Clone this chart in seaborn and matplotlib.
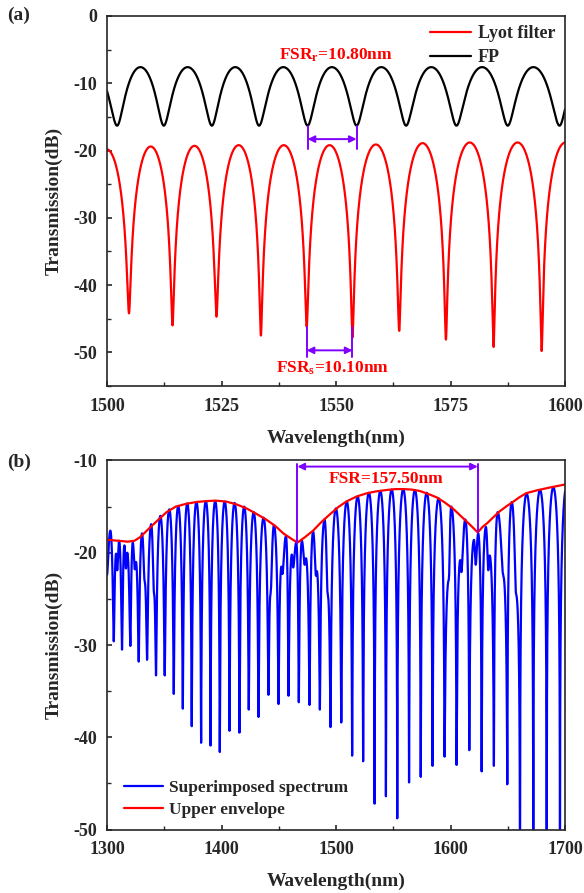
import numpy as np
import pandas as pd
import matplotlib
matplotlib.use("Agg")
import matplotlib.pyplot as plt
import seaborn as sns
from matplotlib.ticker import MultipleLocator

# ---------------- (a) individual filters ----------------
# Lyot filter: dip / peak wavelengths (nm) and levels (dB)
lyot_dip_nm = [1504.8, 1514.3, 1523.9, 1533.6, 1543.6, 1553.6, 1563.8, 1574.0, 1584.4, 1594.9]
lyot_dip_db = [-44.2, -46.0, -44.7, -47.5, -46.2, -47.8, -46.8, -48.1, -49.2, -49.8]
lyot_peak_nm = [1499.9, 1509.55, 1519.1, 1528.75, 1538.6, 1548.6, 1558.7, 1568.9, 1579.2, 1589.65, 1600.1]
lyot_peak_db = [-19.8, -19.4, -19.3, -19.2, -19.2, -19.2, -19.1, -18.9, -18.8, -18.8, -18.8]

# Fabry-Perot comb
fp_dip_nm = [1502.2, 1512.4, 1522.9, 1533.2, 1543.8, 1554.5, 1565.3, 1576.3, 1587.5, 1598.8]
fp_dip_db = [-16.3, -16.3, -16.3, -16.3, -16.3, -16.3, -16.3, -16.3, -16.3, -16.3]
fp_peak_nm = [1496.8, 1507.3, 1517.6, 1528.0, 1538.5, 1549.1, 1559.9, 1570.8, 1581.9, 1593.1, 1604.2]
fp_peak_db = [-7.6, -7.6, -7.6, -7.6, -7.6, -7.6, -7.6, -7.6, -7.6, -7.6, -7.6]

# ---------------- (b) superimposed spectrum ----------------
# deep fringe minima
sup_dip_nm = [1305.9, 1313.1, 1320.4, 1327.7, 1335.0, 1342.8, 1350.4, 1358.3, 1366.2, 1374.0,
              1382.2, 1390.4, 1398.5, 1407.0, 1415.7, 1423.8, 1432.3, 1441.0, 1449.8, 1458.5,
              1467.5, 1476.9, 1485.9, 1495.2, 1504.6, 1514.1, 1523.7, 1533.7, 1543.6, 1553.5,
              1563.8, 1574.0, 1584.3, 1594.8, 1605.3, 1616.4, 1627.2, 1637.9, 1649.6, 1660.7,
              1672.3, 1684.0, 1695.6]
sup_dip_db = [-29.6, -30.5, -30.1, -31.8, -31.6, -33.3, -33.3, -35.3, -36.9, -38.8,
              -40.6, -40.9, -41.6, -39.3, -39.5, -37.0, -37.8, -35.4, -36.4, -35.5,
              -36.2, -36.5, -37.0, -38.9, -38.4, -42.0, -42.6, -47.2, -46.4, -48.8,
              -44.9, -44.3, -43.1, -42.1, -43.0, -41.4, -43.7, -43.1, -45.1, -58.0,
              -58.0, -58.0, -58.0]
# main fringe maxima
sup_peak_nm = [1302.9, 1310.6, 1315.2, 1322.5, 1330.6, 1338.6, 1346.6, 1354.4, 1362.2, 1370.1,
               1378.1, 1386.3, 1394.5, 1402.8, 1411.4, 1419.8, 1428.1, 1436.7, 1445.8, 1456.3,
               1465.3, 1470.2, 1480.0, 1490.0, 1499.9, 1509.4, 1518.9, 1528.7, 1538.7, 1548.6,
               1558.7, 1568.9, 1579.2, 1589.6, 1600.6, 1612.9, 1624.2, 1630.9, 1641.2, 1653.5,
               1666.5, 1678.2, 1689.8, 1701.6]
sup_peak_db = [-17.6, -18.7, -19.2, -18.9, -17.9, -16.9, -16.0, -15.3, -14.95, -14.65,
               -14.5, -14.4, -14.4, -14.45, -14.6, -15.0, -15.6, -16.2, -17.0, -18.2,
               -18.9, -18.7, -17.7, -16.4, -15.2, -14.45, -13.9, -13.5, -13.3, -13.15,
               -13.1, -13.2, -13.5, -14.1, -15.0, -16.4, -17.9, -17.2, -15.6, -14.5,
               -13.6, -13.2, -12.9, -12.6]
# secondary bumps, notches and shoulders near the envelope minima
sup_fine_nm = [1307.9, 1308.9, 1316.5, 1317.7, 1324.3, 1325.3, 1332.8, 1333.1, 1340.9, 1341.2,
               1442.7, 1443.0, 1452.3, 1453.2, 1461.4, 1462.6, 1472.6, 1473.8, 1482.5, 1483.3,
               1492.6, 1492.9, 1598.4, 1598.7, 1608.5, 1609.5, 1620.5, 1622.0, 1633.0, 1634.2,
               1645.9, 1646.2, 1657.1, 1657.4]
sup_fine_db = [-20.1, -21.9, -21.7, -20.0, -21.8, -21.0, -23.0, -23.3, -24.2, -24.5,
               -24.6, -24.3, -21.5, -22.3, -20.2, -21.6, -21.3, -20.6, -22.5, -22.0,
               -24.3, -24.6, -23.0, -22.6, -20.8, -22.1, -18.6, -21.3, -21.9, -20.3,
               -22.3, -22.6, -24.3, -24.6]
sup_start = (1300.0, -22.4)

# Upper envelope
env_nm = [1300, 1310, 1318, 1324, 1329, 1334, 1339, 1345, 1352, 1360, 1369, 1378, 1387, 1395,
          1404, 1413, 1422, 1430, 1439, 1447, 1454, 1460, 1466.3,
          1473, 1480, 1487, 1495, 1502, 1509, 1518, 1527, 1535, 1544, 1552, 1559, 1566, 1573,
          1580, 1588, 1595, 1602, 1608, 1614, 1619, 1623.8,
          1628, 1632, 1637, 1643, 1649, 1655, 1660, 1666, 1675, 1684, 1692, 1700]
env_db = [-18.6, -18.7, -18.8, -18.7, -18.3, -17.7, -17.1, -16.4, -15.6, -15.0, -14.7, -14.5, -14.4, -14.35,
          -14.45, -14.75, -15.2, -15.75, -16.4, -17.1, -17.9, -18.4, -18.9,
          -18.3, -17.6, -16.7, -15.8, -15.05, -14.45, -13.9, -13.55, -13.35, -13.2, -13.1, -13.1, -13.15, -13.3,
          -13.6, -14.0, -14.55, -15.2, -15.9, -16.6, -17.2, -17.8,
          -17.2, -16.8, -16.2, -15.5, -14.95, -14.45, -14.0, -13.55, -13.25, -13.0, -12.8, -12.6]

# Annotated free spectral ranges
fsr_r_nm = (1543.8, 1554.5)
fsr_s_nm = (1543.6, 1553.6)
fsr_env_nm = (1466.3, 1623.8)


def fringe(knot_nm, knot_db, grid, q=1.0):
    """Trace a fringe pattern through its successive extrema.
    Each segment between extrema is a raised cosine in amplitude T**(1/q)."""
    order = np.argsort(knot_nm)
    x = np.asarray(knot_nm, float)[order]
    a = 10 ** (np.asarray(knot_db, float)[order] / (10 * q))
    i = np.clip(np.searchsorted(x, grid) - 1, 0, len(x) - 2)
    u = np.clip((grid - x[i]) / (x[i + 1] - x[i]), 0, 1)
    amp = a[i] + (a[i + 1] - a[i]) * (1 - np.cos(np.pi * u)) / 2
    return 10 * q * np.log10(amp)


sns.set_style("ticks")
plt.rcParams.update({
    "font.family": ["Liberation Serif", "DejaVu Serif"],
    "font.weight": "bold",
    "axes.labelweight": "bold",
    "axes.unicode_minus": False,
    "mathtext.fontset": "custom",
    "mathtext.rm": "Liberation Serif:bold",
    "mathtext.bf": "Liberation Serif:bold",
    "mathtext.it": "Liberation Serif:bold",
    "xtick.direction": "in",
    "ytick.direction": "in",
    "axes.linewidth": 1.2,
    "xtick.major.width": 1.2,
    "ytick.major.width": 1.2,
    "xtick.minor.width": 1.0,
    "ytick.minor.width": 1.0,
    "xtick.major.size": 3.3,
    "ytick.major.size": 3.3,
    "xtick.minor.size": 3.0,
    "ytick.minor.size": 3.0,
    "xtick.major.pad": 8.5,
    "ytick.major.pad": 7.0,
})

W, H = 584, 893
fig = plt.figure(figsize=(W / 100, H / 100), dpi=100)
axa = fig.add_axes([107 / W, 1 - 386 / H, 458 / W, 370 / H])
axb = fig.add_axes([107 / W, 1 - 829.5 / H, 458 / W, 369 / H])

purple = "#8000FF"
lw = 1.6

# ---- panel (a) ----
ga = np.linspace(1496.0, 1604.0, 20000)
lyot_df = pd.DataFrame({"nm": ga, "dB": fringe(lyot_dip_nm + lyot_peak_nm,
                                               lyot_dip_db + lyot_peak_db, ga, q=1.2)})
fp_df = pd.DataFrame({"nm": ga, "dB": fringe(fp_dip_nm + fp_peak_nm, fp_dip_db + fp_peak_db, ga)})
sns.lineplot(data=lyot_df, x="nm", y="dB", ax=axa, color="#FF0000", lw=lw,
             estimator=None, sort=False, label="Lyot filter")
sns.lineplot(data=fp_df, x="nm", y="dB", ax=axa, color="black", lw=lw,
             estimator=None, sort=False, label="FP")
axa.set_xlim(1500, 1600)
axa.set_ylim(-55, 0)
axa.xaxis.set_major_locator(MultipleLocator(25))
axa.xaxis.set_minor_locator(MultipleLocator(12.5))
axa.yaxis.set_major_locator(MultipleLocator(10))
axa.yaxis.set_minor_locator(MultipleLocator(5))

# FSR_r marker on the FP comb
for x in fsr_r_nm:
    axa.plot([x, x], [-16.3, -19.8], color=purple, lw=1.4)
axa.annotate("", xy=(fsr_r_nm[0], -18.3), xytext=(fsr_r_nm[1], -18.3),
             arrowprops=dict(arrowstyle="<|-|>", color=purple, lw=1.4,
                             mutation_scale=10, shrinkA=0, shrinkB=0))
axa.text(1550.0, -5.8, r"FSR$_{\rm r}$=10.80nm", color="#FF0000",
         fontsize=12.5, fontweight="bold", ha="center", va="center")
# FSR_s marker on the Lyot filter
for x in fsr_s_nm:
    axa.plot([x, x], [-46.2, -50.7], color=purple, lw=1.4)
axa.annotate("", xy=(fsr_s_nm[0], -49.7), xytext=(fsr_s_nm[1], -49.7),
             arrowprops=dict(arrowstyle="<|-|>", color=purple, lw=1.4,
                             mutation_scale=10, shrinkA=0, shrinkB=0))
axa.text(1549.2, -52.4, r"FSR$_{\rm s}$=10.10nm", color="#FF0000",
         fontsize=12.5, fontweight="bold", ha="center", va="center")

axa.legend(loc="upper right", bbox_to_anchor=(1.0, 1.003), frameon=False,
           handlelength=2.3, handletextpad=0.35, labelspacing=0.4,
           borderaxespad=0.15, prop={"weight": "bold", "size": 13})
axa.set_xlabel("Wavelength(nm)", fontsize=14, fontweight="bold", labelpad=11)
axa.set_ylabel("Transmission(dB)", fontsize=14, fontweight="bold", labelpad=7.5)

# ---- panel (b) ----
gb = np.linspace(1300.0, 1701.0, 60000)
sup_nm = [sup_start[0]] + sup_dip_nm + sup_peak_nm + sup_fine_nm
sup_db = [sup_start[1]] + sup_dip_db + sup_peak_db + sup_fine_db
sup_df = pd.DataFrame({"nm": gb, "dB": fringe(sup_nm, sup_db, gb)})
env_df = pd.DataFrame({"nm": env_nm, "dB": env_db})
sns.lineplot(data=sup_df, x="nm", y="dB", ax=axb, color="#0000FF", lw=lw,
             estimator=None, sort=False, label="Superimposed spectrum")
sns.lineplot(data=env_df, x="nm", y="dB", ax=axb, color="#FF0000", lw=lw,
             estimator=None, sort=False, label="Upper envelope")
axb.set_xlim(1300, 1700)
axb.set_ylim(-50, -10)
axb.xaxis.set_major_locator(MultipleLocator(100))
axb.xaxis.set_minor_locator(MultipleLocator(50))
axb.yaxis.set_major_locator(MultipleLocator(10))
axb.yaxis.set_minor_locator(MultipleLocator(5))

for x, ybot in zip(fsr_env_nm, (-18.9, -17.8)):
    axb.plot([x, x], [-10.37, ybot], color=purple, lw=1.4)
axb.annotate("", xy=(fsr_env_nm[0], -10.66), xytext=(fsr_env_nm[1], -10.66),
             arrowprops=dict(arrowstyle="<|-|>", color=purple, lw=1.4,
                             mutation_scale=10, shrinkA=0, shrinkB=0))
axb.text(1543.8, -12.0, "FSR=157.50nm", color="#FF0000",
         fontsize=12.5, fontweight="bold", ha="center", va="center")

axb.legend(loc="lower left", bbox_to_anchor=(0.014, 0.004), frameon=False,
           handlelength=2.3, handletextpad=0.35, labelspacing=0.35,
           borderaxespad=0.2, prop={"weight": "bold", "size": 12.4})
axb.set_xlabel("Wavelength(nm)", fontsize=14, fontweight="bold", labelpad=10)
axb.set_ylabel("Transmission(dB)", fontsize=14, fontweight="bold", labelpad=7.5)

for ax in (axa, axb):
    for lab in ax.get_xticklabels() + ax.get_yticklabels():
        lab.set_fontweight("bold")
        lab.set_fontsize(13)
    ax.tick_params(which="both", top=False, right=False)
    for s in ax.spines.values():
        s.set_visible(True)

fig.text(19 / W, 1 - 15 / H, "(a)", fontsize=14, fontweight="bold", ha="center", va="center")
fig.text(19 / W, 1 - 462 / H, "(b)", fontsize=14, fontweight="bold", ha="center", va="center")

fig.savefig("out.png", dpi=100)
